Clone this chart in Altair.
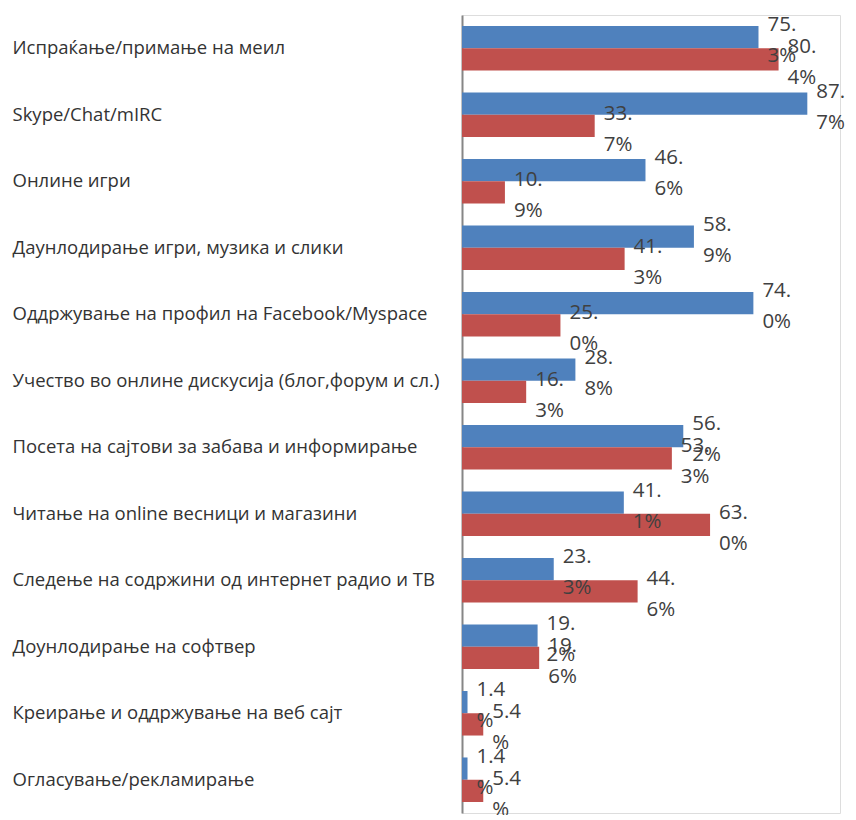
import altair as alt
import pandas as pd

categories = [
    "Испраќање/примање на меил",
    "Skype/Chat/mIRC",
    "Онлине игри",
    "Даунлодирање игри, музика и слики",
    "Оддржување на профил на Facebook/Myspace",
    "Учество во онлине дискусија (блог,форум и сл.)",
    "Посета на сајтови за забава и информирање",
    "Читање на online весници и магазини",
    "Следење на содржини од интернет радио и ТВ",
    "Доунлодирање на софтвер",
    "Креирање и оддржување на веб сајт",
    "Огласување/рекламирање",
]
series_names = ["Серија 1", "Серија 2"]
blue_values = [75.3, 87.7, 46.6, 58.9, 74.0, 28.8, 56.2, 41.1, 23.3, 19.2, 1.4, 1.4]
red_values = [80.4, 33.7, 10.9, 41.3, 25.0, 16.3, 53.3, 63.0, 44.6, 19.6, 5.4, 5.4]
colors = ["#4F81BD", "#C0504D"]


def wrap_label(v):
    s = f"{v:.1f}%"
    return s[:3] + "\n" + s[3:]


rows = []
for c, b, r in zip(categories, blue_values, red_values):
    rows.append({"category": c, "series": series_names[0], "value": b, "label": wrap_label(b)})
    rows.append({"category": c, "series": series_names[1], "value": r, "label": wrap_label(r)})
df = pd.DataFrame(rows)

x = alt.X("value:Q", scale=alt.Scale(domain=[0, 96], nice=False, zero=True), axis=None)
y = alt.Y(
    "category:N",
    sort=categories,
    scale=alt.Scale(paddingInner=0.33, paddingOuter=0.165),
    axis=alt.Axis(
        title=None,
        ticks=False,
        domain=True,
        domainColor="#868686",
        domainWidth=2,
        labelAlign="left",
        labelPadding=450,
        labelFont="Open Sans",
        labelFontSize=18.5,
        labelColor="#333333",
        labelLimit=452,
        grid=False,
    ),
)
yoff = alt.YOffset("series:N", sort=series_names)

bars = alt.Chart(df).mark_bar().encode(
    x=x,
    y=y,
    yOffset=yoff,
    color=alt.Color("series:N", scale=alt.Scale(domain=series_names, range=colors), legend=None),
)

labels = alt.Chart(df).mark_text(
    align="left",
    baseline="middle",
    dx=9,
    dy=-12,
    lineBreak="\n",
    lineHeight=31,
    fontSize=20.5,
    font="Open Sans",
    color="#404040",
).encode(x=x, y=y, yOffset=yoff, text="label:N")

chart = (
    alt.layer(bars, labels)
    .properties(
        width=378,
        height=798,
        autosize=alt.AutoSizeParams(type="none"),
        padding={"left": 454, "top": 7, "right": 8, "bottom": 2},
    )
    .configure_view(stroke=None)
    .configure(background="white")
)

chart.save("out.html", embed_options={"renderer": "svg", "actions": False})
